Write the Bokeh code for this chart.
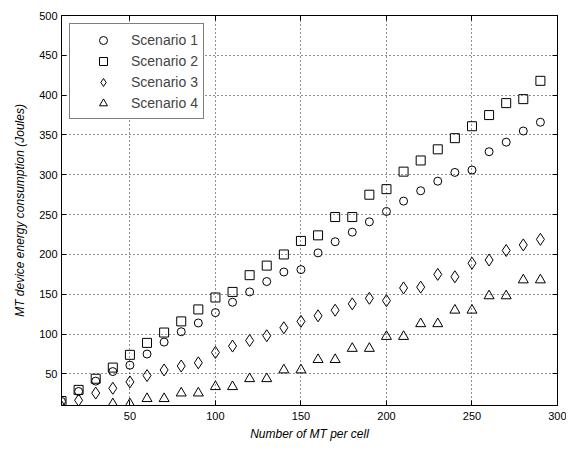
import numpy as np
from bokeh.plotting import figure
from bokeh.models import FixedTicker, LinearAxis, Range1d, Legend, LegendItem
from bokeh.embed import file_html
from bokeh.resources import INLINE

# ---- data ----
mt_per_cell = [10, 20, 30, 40, 50, 60, 70, 80, 90, 100, 110, 120, 130, 140, 150,
               160, 170, 180, 190, 200, 210, 220, 230, 240, 250, 260, 270, 280, 290]
scenario1 = [15.5, 28, 41, 53, 61, 75, 90, 103, 114, 127, 140, 153, 166, 178, 181,
             202, 216, 228, 241, 254, 267, 280, 292, 303, 306, 329, 341, 355, 366]
scenario2 = [16, 30, 44, 58, 74, 89, 102, 116, 131, 146, 153, 174, 186, 200, 217,
             224, 247, 247, 275, 282, 304, 318, 332, 346, 361, 375, 390, 395, 418]
scenario3 = [9, 17, 26, 32, 40, 48, 55, 60, 64, 77, 85, 92, 98, 108, 116,
             123, 130, 138, 145, 142, 158, 159, 175, 172, 189, 193, 205, 212, 219]
scenario4 = [np.nan, np.nan, np.nan, 12.5, 12.5, 19, 19, 26, 26, 34, 34, 44, 44, 55, 55,
             68, 68, 82, 82, 97, 97, 113, 113, 130, 130, 148, 148, 168, 168]
x_ticks = [50, 100, 150, 200, 250, 300]
y_ticks = [50, 100, 150, 200, 250, 300, 350, 400, 450, 500]
series_names = ["Scenario 1", "Scenario 2", "Scenario 3", "Scenario 4"]

FONT = "Liberation Sans"

p = figure(width=566, height=443, output_backend="svg", toolbar_location=None,
           x_range=Range1d(10, 300), y_range=Range1d(10.4, 500),
           min_border_left=61, min_border_right=9, min_border_top=15, min_border_bottom=36,
           background_fill_color="white", border_fill_color="white")
p.outline_line_color = "black"
p.outline_line_width = 1

x = np.array(mt_per_cell, dtype=float)
r1 = p.scatter(x, np.array(scenario1, dtype=float), marker="circle", size=8,
               line_color="black", fill_color=None, line_width=1)
r2 = p.scatter(x, np.array(scenario2, dtype=float), marker="square", size=9,
               line_color="black", fill_color=None, line_width=1)
r3 = p.scatter(x, np.array(scenario3, dtype=float), marker="diamond", size=12,
               line_color="black", fill_color=None, line_width=1)
r4 = p.scatter(x, np.array(scenario4, dtype=float), marker="triangle", size=10,
               line_color="black", fill_color=None, line_width=1)

# axes
for ax in (p.xaxis[0], p.yaxis[0]):
    ax.major_tick_in = 5
    ax.major_tick_out = 0
    ax.minor_tick_line_color = None
    ax.axis_line_color = "black"
    ax.major_tick_line_color = "black"
    ax.major_label_text_font = FONT
    ax.major_label_text_font_size = "11px"
    ax.major_label_text_color = "black"
    ax.axis_label_text_font = FONT
    ax.axis_label_text_font_size = "12px"
    ax.axis_label_text_font_style = "italic"
    ax.axis_label_text_color = "black"

p.xaxis[0].ticker = FixedTicker(ticks=x_ticks)
p.yaxis[0].ticker = FixedTicker(ticks=y_ticks)
p.xaxis[0].axis_label = "Number of MT per cell"
p.yaxis[0].axis_label = "MT device energy consumption (Joules)"
p.xaxis[0].major_label_standoff = 6
p.xaxis[0].axis_label_standoff = 4
p.yaxis[0].major_label_standoff = 4
p.yaxis[0].axis_label_standoff = 9

# mirrored axes (box on) - ticks only, no labels
top = LinearAxis(ticker=FixedTicker(ticks=x_ticks), major_label_text_font_size="0px",
                 major_label_text_color=None,
                 major_tick_in=5, major_tick_out=0, minor_tick_line_color=None,
                 axis_line_color="black", major_label_standoff=0)
right = LinearAxis(ticker=FixedTicker(ticks=y_ticks), major_label_text_font_size="0px",
                   major_label_text_color=None,
                   major_tick_in=5, major_tick_out=0, minor_tick_line_color=None,
                   axis_line_color="black", major_label_standoff=0)
p.add_layout(top, "above")
p.add_layout(right, "right")

# grid
for g in (p.xgrid[0], p.ygrid[0]):
    g.grid_line_color = "#222222"
    g.grid_line_dash = "1 3"
    g.grid_line_alpha = 1.0
    g.grid_line_width = 1
p.xgrid[0].ticker = FixedTicker(ticks=x_ticks)
p.ygrid[0].ticker = FixedTicker(ticks=y_ticks)

legend = Legend(items=[LegendItem(label=series_names[0], renderers=[r1]),
                       LegendItem(label=series_names[1], renderers=[r2]),
                       LegendItem(label=series_names[2], renderers=[r3]),
                       LegendItem(label=series_names[3], renderers=[r4])],
                location="top_left", margin=8, padding=5, spacing=0,
                glyph_width=56, glyph_height=20, label_height=21, label_standoff=0,
                label_text_font=FONT, label_text_font_size="14px",
                border_line_color="black", border_line_width=1,
                background_fill_color="white", background_fill_alpha=1)
p.add_layout(legend, "center")

open("out.html", "w").write(file_html(p, INLINE))
